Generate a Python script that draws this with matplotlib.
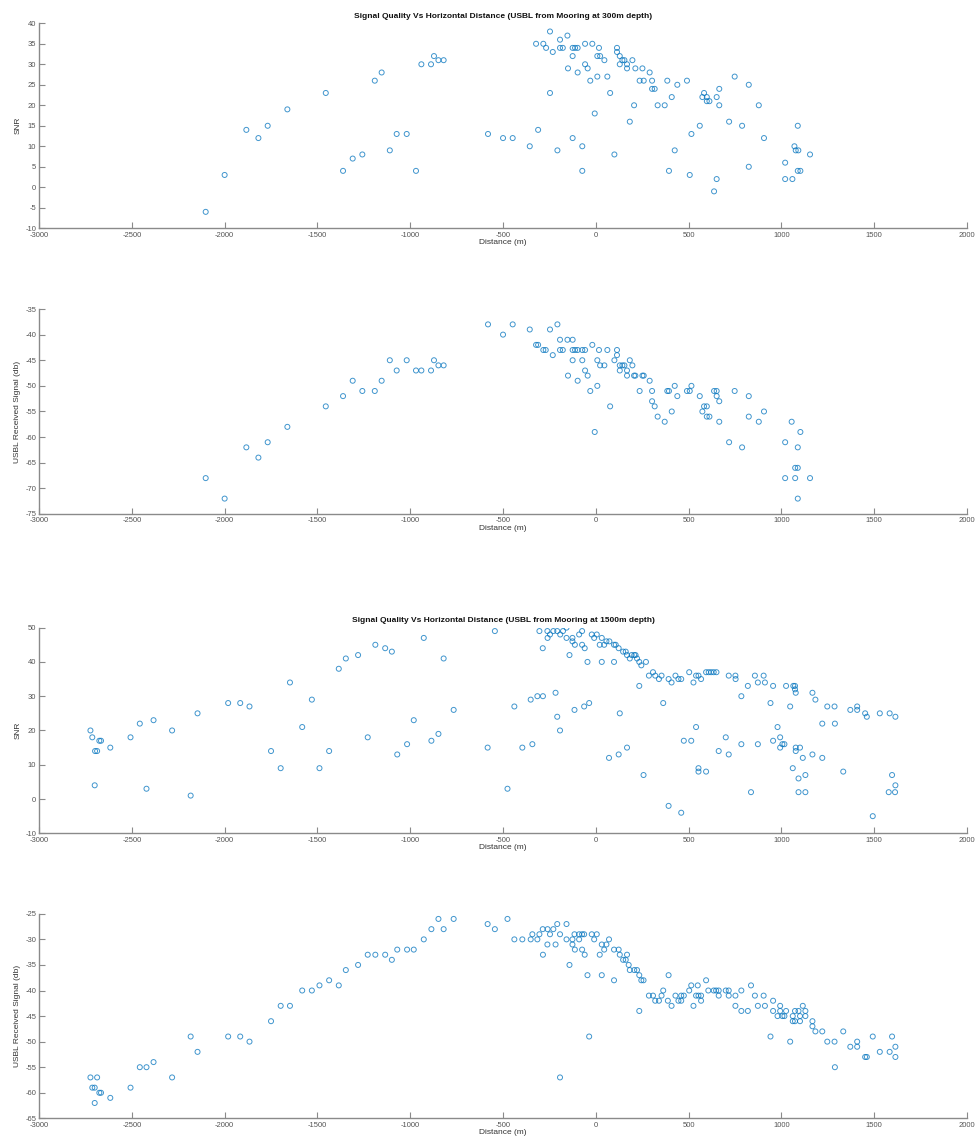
import matplotlib
matplotlib.use("Agg")
import matplotlib.pyplot as plt

# ---- Mooring at 300 m depth ----
dist_300_snr = [-2102, -2000, -1883, -1818, -1768, -1662, -1455, -1362, -1310, -1258,
                -1191, -1154, -1110, -1073, -1019, -969, -940, -888, -872, -848,
                -820, -581, -500, -448, -356, -311, -322, -283, -268, -247,
                -247, -232, -207, -193, -193, -178, -153, -150, -125, -112,
                -98, -125, -125, -98, -73, -73, -58, -58, -44, -30,
                -19, -6, 8, 17, 8, 23, 46, 62, 77, 100,
                114, 114, 129, 129, 143, 154, 168, 168, 183, 197,
                206, 213, 236, 251, 258, 290, 303, 303, 317, 333,
                371, 385, 394, 409, 425, 439, 491, 506, 515, 560,
                574, 583, 598, 598, 612, 637, 651, 651, 665, 665,
                718, 748, 788, 824, 824, 878, 906, 1020, 1020, 1059,
                1070, 1077, 1091, 1088, 1088, 1102, 1154]
snr_300 = [-6, 3, 14, 12, 15, 19, 23, 4, 7, 8,
           26, 28, 9, 13, 13, 4, 30, 30, 32, 31,
           31, 13, 12, 12, 10, 14, 35, 35, 34, 38,
           23, 33, 9, 36, 34, 34, 37, 29, 34, 34,
           34, 32, 12, 28, 10, 4, 35, 30, 29, 26,
           35, 18, 27, 34, 32, 32, 31, 27, 23, 8,
           34, 33, 32, 30, 31, 31, 30, 29, 16, 31,
           20, 29, 26, 29, 26, 28, 26, 24, 24, 20,
           20, 26, 4, 22, 9, 25, 26, 3, 13, 15,
           22, 23, 22, 21, 21, -1, 2, 22, 24, 20,
           16, 27, 15, 25, 5, 20, 12, 6, 2, 2,
           10, 9, 9, 15, 4, 4, 8]

dist_300_rx = [-2102, -2000, -1883, -1818, -1768, -1662, -1455, -1362, -1310, -1258,
               -1191, -1154, -1110, -1073, -1019, -969, -940, -888, -872, -848,
               -820, -581, -500, -448, -356, -322, -311, -283, -270, -247,
               -232, -207, -193, -193, -178, -153, -150, -125, -125, -112,
               -98, -125, -98, -73, -73, -58, -58, -44, -30, -19,
               -6, 8, 8, 17, 23, 46, 62, 77, 100, 114,
               114, 129, 129, 143, 154, 168, 168, 183, 197, 206,
               213, 251, 258, 236, 290, 303, 303, 317, 333, 371,
               385, 394, 409, 425, 439, 491, 506, 515, 560, 574,
               583, 598, 598, 612, 637, 651, 651, 665, 665, 718,
               748, 788, 824, 824, 878, 906, 1020, 1020, 1055, 1074,
               1074, 1088, 1088, 1088, 1102, 1154]
rx_300 = [-68, -72, -62, -64, -61, -58, -54, -52, -49, -51,
          -51, -49, -45, -47, -45, -47, -47, -47, -45, -46,
          -46, -38, -40, -38, -39, -42, -42, -43, -43, -39,
          -44, -38, -41, -43, -43, -41, -48, -41, -43, -43,
          -43, -45, -49, -45, -43, -43, -47, -48, -51, -42,
          -59, -45, -50, -43, -46, -46, -43, -54, -45, -43,
          -44, -47, -46, -46, -46, -47, -48, -45, -46, -48,
          -48, -48, -48, -51, -49, -51, -53, -54, -56, -57,
          -51, -51, -55, -50, -52, -51, -51, -50, -52, -55,
          -54, -54, -56, -56, -51, -51, -52, -53, -57, -61,
          -51, -62, -52, -56, -57, -55, -61, -68, -57, -66,
          -68, -66, -62, -72, -59, -68]

# ---- Mooring at 1500 m depth ----
dist_1500_snr = [-2723, -2713, -2700, -2698, -2687, -2675, -2666, -2616, -2507, -2457,
                 -2421, -2383, -2283, -2183, -2146, -1981, -1916, -1866, -1750, -1698,
                 -1648, -1582, -1530, -1489, -1437, -1385, -1347, -1281, -1229, -1188,
                 -1135, -1099, -1070, -1017, -981, -927, -886, -848, -820, -766,
                 -583, -544, -304, -261, -247, -260, -229, -208, -192, -177,
                 -158, -158, -126, -126, -113, -90, -74, -74, -60, -286,
                 -142, -45, -22, -9, 5, 21, 32, 45, 32, 57,
                 73, 98, 98, 107, 123, 147, 161, 168, 183, 193,
                 207, 214, 222, 234, 245, 270, 234, 286, 308, 320,
                 340, 354, 363, 392, 408, 429, 445, 460, 503, 526,
                 540, 553, 567, 594, 608, 621, 635, 650, 716, 752,
                 753, 784, 819, 857, 873, 904, 911, 955, 941, 1025,
                 1064, 1073, 1073, 1077, 1047, 1167, 1183, 1220, 1247, 1286,
                 1288, 1371, 1408, 1408, 1451, 1460, 1530, 1583, 1614, -476,
                 -439, -396, -351, -342, -315, -285, -217, -208, -193, -115,
                 -63, -36, 71, 123, 129, 168, 257, 392, 460, 474,
                 514, 540, 553, 553, 594, 662, 700, 716, 784, 836,
                 873, 955, 979, 993, 993, 1005, 1016, 1061, 1077, 1100,
                 1077, 1092, 1092, 1129, 1115, 1129, 1167, 1220, 1333, 1492,
                 1596, 1614, 1578, 1612]
snr_1500 = [20, 18, 4, 14, 14, 17, 17, 15, 18, 22,
            3, 23, 20, 1, 25, 28, 28, 27, 14, 9,
            34, 21, 29, 9, 14, 38, 41, 42, 18, 45,
            44, 43, 13, 16, 23, 47, 17, 19, 41, 26,
            15, 49, 49, 49, 48, 47, 49, 49, 48, 49,
            50, 47, 47, 46, 45, 48, 49, 45, 44, 44,
            42, 40, 48, 47, 48, 45, 47, 45, 40, 46,
            46, 45, 40, 45, 44, 43, 43, 42, 41, 42,
            42, 42, 41, 40, 39, 40, 33, 36, 37, 36,
            35, 36, 28, 35, 34, 36, 35, 35, 37, 34,
            36, 36, 35, 37, 37, 37, 37, 37, 36, 36,
            35, 30, 33, 36, 34, 36, 34, 33, 28, 33,
            33, 33, 32, 31, 27, 31, 29, 22, 27, 27,
            22, 26, 27, 26, 25, 24, 25, 25, 24, 3,
            27, 15, 29, 16, 30, 30, 31, 24, 20, 26,
            27, 28, 12, 13, 25, 15, 7, -2, -4, 17,
            17, 21, 9, 8, 8, 14, 18, 13, 16, 2,
            16, 17, 21, 18, 15, 16, 16, 9, 15, 15,
            14, 6, 2, 2, 12, 7, 13, 12, 8, -5,
            7, 4, 2, 2]

dist_1500_rx = [-2723, -2713, -2700, -2687, -2700, -2675, -2666, -2616, -2507, -2457,
                -2421, -2383, -2283, -2183, -2146, -1981, -1916, -1866, -1750, -1698,
                -1648, -1582, -1530, -1489, -1437, -1385, -1347, -1281, -1229, -1188,
                -1135, -1099, -1070, -1017, -981, -927, -886, -848, -820, -766,
                -583, -544, -476, -439, -396, -351, -315, -342, -304, -286,
                -260, -247, -229, -208, -193, -261, -217, -285, -158, -158,
                -142, -126, -126, -115, -113, -90, -90, -74, -63, -74,
                -60, -45, -36, -193, -22, 5, -9, 21, 32, 32,
                45, 57, 71, 98, 98, 123, 129, 147, 161, 168,
                177, 183, 207, 222, 234, 245, 257, 234, 286, 308,
                320, 340, 354, 363, 392, 388, 408, 429, 445, 460,
                474, 460, 503, 514, 526, 540, 553, 567, 549, 567,
                594, 606, 635, 648, 662, 662, 700, 716, 716, 752,
                752, 784, 784, 819, 836, 857, 873, 911, 904, 941,
                955, 955, 979, 993, 993, 1005, 1016, 1025, 1047, 1061,
                1061, 1073, 1073, 1092, 1100, 1100, 1115, 1129, 1129, 1167,
                1167, 1183, 1220, 1247, 1286, 1288, 1333, 1371, 1408, 1408,
                1451, 1460, 1492, 1530, 1583, 1596, 1614, 1614]
rx_1500 = [-57, -59, -59, -57, -62, -60, -60, -61, -59, -55,
           -55, -54, -57, -49, -52, -49, -49, -50, -46, -43,
           -43, -40, -40, -39, -38, -39, -36, -35, -33, -33,
           -33, -34, -32, -32, -32, -30, -28, -26, -28, -26,
           -27, -28, -26, -30, -30, -30, -30, -29, -29, -28,
           -28, -29, -28, -27, -29, -31, -31, -33, -27, -30,
           -35, -30, -31, -29, -32, -30, -29, -29, -29, -32,
           -33, -37, -49, -57, -29, -29, -30, -33, -37, -31,
           -32, -31, -30, -38, -32, -32, -33, -34, -34, -33,
           -35, -36, -36, -36, -37, -38, -38, -44, -41, -41,
           -42, -42, -41, -40, -37, -42, -43, -41, -42, -41,
           -41, -42, -40, -39, -43, -41, -41, -41, -39, -42,
           -38, -40, -40, -40, -40, -41, -40, -40, -41, -41,
           -43, -40, -44, -44, -39, -41, -43, -43, -41, -49,
           -42, -44, -45, -43, -44, -45, -45, -44, -50, -45,
           -46, -44, -46, -44, -45, -46, -43, -44, -45, -46,
           -47, -48, -48, -50, -50, -55, -48, -51, -51, -50,
           -53, -53, -49, -52, -52, -49, -51, -53]

x_ticks = list(range(-3000, 2001, 500))
titles = ["Signal Quality Vs Horizontal Distance (USBL from Mooring at 300m depth)",
          "Signal Quality Vs Horizontal Distance (USBL from Mooring at 1500m depth)"]

MARKER_COLOR = "#0072BD"
AXIS_COLOR = "#8a8a8a"
TEXT_COLOR = "#555555"

plt.rcParams["font.family"] = ["Liberation Sans", "DejaVu Sans"]
plt.rcParams["axes.unicode_minus"] = False

fig = plt.figure(figsize=(9.78, 11.47), dpi=100)

panels = [
    # (rect, x, y, ylim, yticks, ylabel, title)
    ([0.0399, 0.8010, 0.9489, 0.1787], dist_300_snr, snr_300, (-10, 40),
     range(-10, 41, 5), "SNR", titles[0]),
    ([0.0399, 0.5519, 0.9489, 0.1787], dist_300_rx, rx_300, (-75, -35),
     range(-75, -34, 5), "USBL Received Signal (db)", None),
    ([0.0399, 0.2735, 0.9489, 0.1793], dist_1500_snr, snr_1500, (-10, 50),
     range(-10, 51, 10), "SNR", titles[1]),
    ([0.0399, 0.0250, 0.9489, 0.1783], dist_1500_rx, rx_1500, (-65, -25),
     range(-65, -24, 5), "USBL Received Signal (db)", None),
]

for rect, xs, ys, ylim, yticks, ylabel, title in panels:
    ax = fig.add_axes(rect)
    ax.scatter(xs, ys, s=13, facecolors="none", edgecolors=MARKER_COLOR,
               linewidths=0.7, alpha=0.75, zorder=3)
    ax.set_xlim(-3000, 2000)
    ax.set_ylim(*ylim)
    ax.set_xticks(x_ticks)
    ax.set_yticks(list(yticks))
    for side in ("top", "right"):
        ax.spines[side].set_visible(False)
    for side in ("left", "bottom"):
        ax.spines[side].set_color(AXIS_COLOR)
        ax.spines[side].set_linewidth(1.0)
    ax.tick_params(direction="in", length=4, width=0.8, colors=AXIS_COLOR,
                   labelcolor=TEXT_COLOR, labelsize=5.5)
    ax.tick_params(axis="x", pad=2.5)
    ax.tick_params(axis="y", pad=2)
    ax.set_xlabel("Distance (m)", fontsize=6, color="#333333", labelpad=0.5)
    ax.set_ylabel(ylabel, fontsize=6, color="#333333", labelpad=3)
    if title:
        ax.set_title(title, fontsize=6, fontweight="bold", color="#111111", pad=4)

fig.savefig("out.png", dpi=100)
